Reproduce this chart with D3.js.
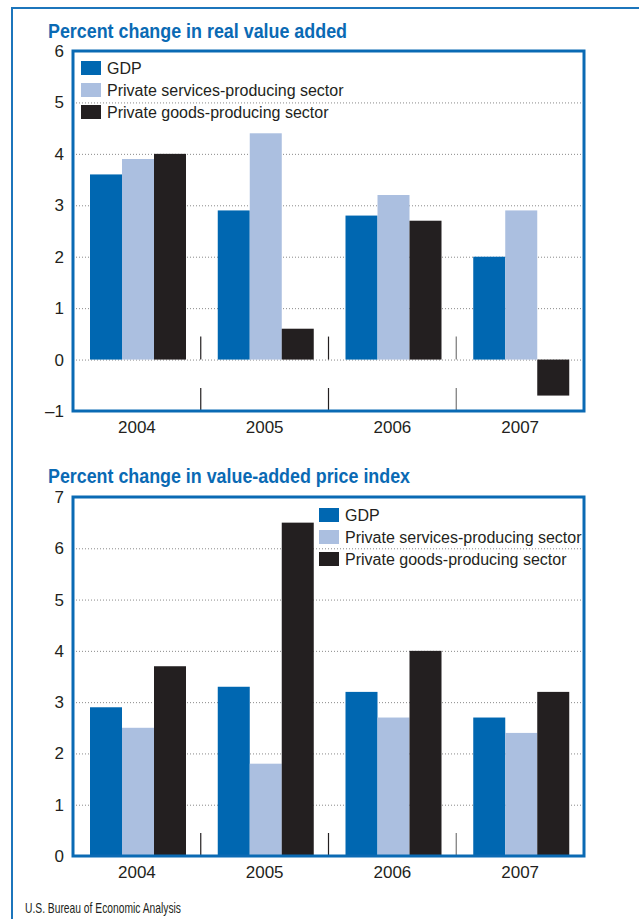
<!DOCTYPE html>
<html>
<head>
<meta charset="utf-8">
<script src="https://cdn.jsdelivr.net/npm/d3@7"></script>
<style>
  body { margin: 0; background: #fff; }
  svg text { font-family: "Liberation Sans", Arial, sans-serif; }
</style>
</head>
<body>
<div id="chart"></div>
<script>
var svgWidth = 639;
var svgHeight = 919;

// data
var years = ["2004", "2005", "2006", "2007"];
var seriesNames = ["GDP", "Private services-producing sector", "Private goods-producing sector"];
var seriesColors = ["#0067b1", "#abbfe0", "#231f20"];

// top panel: percent change in real value added
var realGDP = [3.6, 2.9, 2.8, 2.0];
var realServices = [3.9, 4.4, 3.2, 2.9];
var realGoods = [4.0, 0.6, 2.7, -0.7];
var realTicks = [-1, 0, 1, 2, 3, 4, 5, 6];

// bottom panel: percent change in value-added price index
var priceGDP = [2.9, 3.3, 3.2, 2.7];
var priceServices = [2.5, 1.8, 2.7, 2.4];
var priceGoods = [3.7, 6.5, 4.0, 3.2];
var priceTicks = [0, 1, 2, 3, 4, 5, 6, 7];

var blue = "#0a6ab4";

var svg = d3.select("#chart")
  .append("svg")
  .attr("width", svgWidth)
  .attr("height", svgHeight);

// outer frame (top and left rules)
svg.append("line")
  .attr("x1", 11).attr("x2", svgWidth)
  .attr("y1", 8).attr("y2", 8)
  .attr("stroke", "#1c75bc").attr("stroke-width", 2);
svg.append("line")
  .attr("x1", 12).attr("x2", 12)
  .attr("y1", 7).attr("y2", svgHeight)
  .attr("stroke", "#1c75bc").attr("stroke-width", 2);

function drawPanel(opts) {
  var left = 73, right = 584;
  var top = opts.top, bottom = opts.bottom;
  var g = svg.append("g");

  var x = d3.scaleBand()
    .domain(years)
    .range([left, right]);

  var xs = d3.scaleBand()
    .domain(seriesNames)
    .range([17, 113]);

  var y = d3.scaleLinear()
    .domain([d3.min(opts.ticks), d3.max(opts.ticks)])
    .range([bottom, top]);

  // title
  g.append("text")
    .attr("x", 48)
    .attr("y", opts.titleY)
    .attr("fill", blue)
    .attr("font-weight", "bold")
    .attr("font-size", 20)
    .attr("textLength", opts.titleLen)
    .attr("lengthAdjust", "spacingAndGlyphs")
    .text(opts.title);

  // dotted gridlines
  g.selectAll(".grid")
    .data(opts.ticks.filter(t => t !== d3.min(opts.ticks) && t !== d3.max(opts.ticks)))
    .enter()
    .append("line")
    .attr("x1", left).attr("x2", right)
    .attr("y1", d => y(d) + 0.5).attr("y2", d => y(d) + 0.5)
    .attr("stroke", "#8a8a8a")
    .attr("stroke-width", 1)
    .attr("stroke-dasharray", "1,2");

  // y axis labels
  var leftAxis = d3.axisLeft(y)
    .tickValues(opts.ticks)
    .tickSize(0)
    .tickPadding(9)
    .tickFormat(d => d < 0 ? "\u2013" + Math.abs(d) : d);
  var yAxis = g.append("g")
    .attr("transform", `translate(${left}, 0)`)
    .call(leftAxis);
  yAxis.select(".domain").remove();
  yAxis.selectAll("text")
    .attr("font-size", 17)
    .attr("fill", "#231f20")
    .attr("font-family", "Liberation Sans, Arial, sans-serif");

  // bars
  var rows = years.map((yr, i) => ({ year: yr, values: opts.series.map((s, j) => ({ name: seriesNames[j], v: s[i] })) }));
  var groups = g.selectAll(".yr")
    .data(rows)
    .enter()
    .append("g")
    .attr("transform", d => `translate(${x(d.year)}, 0)`);
  groups.selectAll("rect")
    .data(d => d.values)
    .enter()
    .append("rect")
    .attr("x", d => xs(d.name))
    .attr("width", xs.bandwidth())
    .attr("y", d => y(Math.max(0, d.v)))
    .attr("height", d => Math.abs(y(d.v) - y(0)))
    .attr("fill", (d, i) => seriesColors[i]);

  // separators between years
  var seps = years.slice(1).map(yr => x(yr));
  seps.forEach(function(sx, i) {
    var col = i === 2 ? "#777" : "#231f20";
    if (opts.zeroSep) {
      g.append("line")
        .attr("x1", sx).attr("x2", sx)
        .attr("y1", y(0) - 23).attr("y2", y(0))
        .attr("stroke", col).attr("stroke-width", 1.2);
    }
    g.append("line")
      .attr("x1", sx).attr("x2", sx)
      .attr("y1", bottom - 23).attr("y2", bottom)
      .attr("stroke", col).attr("stroke-width", 1.2);
  });

  // frame
  g.append("rect")
    .attr("x", left).attr("y", top)
    .attr("width", right - left).attr("height", bottom - top)
    .attr("fill", "none")
    .attr("stroke", blue)
    .attr("stroke-width", 3);

  // year labels
  var bottomAxis = d3.axisBottom(x).tickSize(0).tickPadding(10);
  var xAxis = g.append("g")
    .attr("transform", `translate(0, ${bottom})`)
    .call(bottomAxis);
  xAxis.select(".domain").remove();
  xAxis.selectAll("text")
    .attr("font-size", 17)
    .attr("fill", "#231f20")
    .attr("font-family", "Liberation Sans, Arial, sans-serif");

  // legend
  var legend = g.append("g")
    .attr("transform", `translate(${opts.legendX}, ${opts.legendY})`);
  seriesNames.forEach(function(name, i) {
    legend.append("rect")
      .attr("x", 0).attr("y", i * 22)
      .attr("width", 20).attr("height", 14)
      .attr("fill", seriesColors[i]);
    legend.append("text")
      .attr("x", 26).attr("y", i * 22 + 13)
      .attr("font-size", 16)
      .attr("fill", "#231f20")
      .text(name);
  });
}

drawPanel({
  title: "Percent change in real value added",
  titleY: 38,
  titleLen: 299,
  top: 51,
  bottom: 411,
  ticks: realTicks,
  series: [realGDP, realServices, realGoods],
  zeroSep: true,
  legendX: 81,
  legendY: 61
});

drawPanel({
  title: "Percent change in value-added price index",
  titleY: 483,
  titleLen: 362,
  top: 497,
  bottom: 856,
  ticks: priceTicks,
  series: [priceGDP, priceServices, priceGoods],
  zeroSep: false,
  legendX: 319,
  legendY: 508
});

// source line
svg.append("text")
  .attr("x", 25)
  .attr("y", 913)
  .attr("font-size", 14.5)
  .attr("fill", "#231f20")
  .attr("textLength", 156)
  .attr("lengthAdjust", "spacingAndGlyphs")
  .text("U.S. Bureau of Economic Analysis");
</script>
</body>
</html>
